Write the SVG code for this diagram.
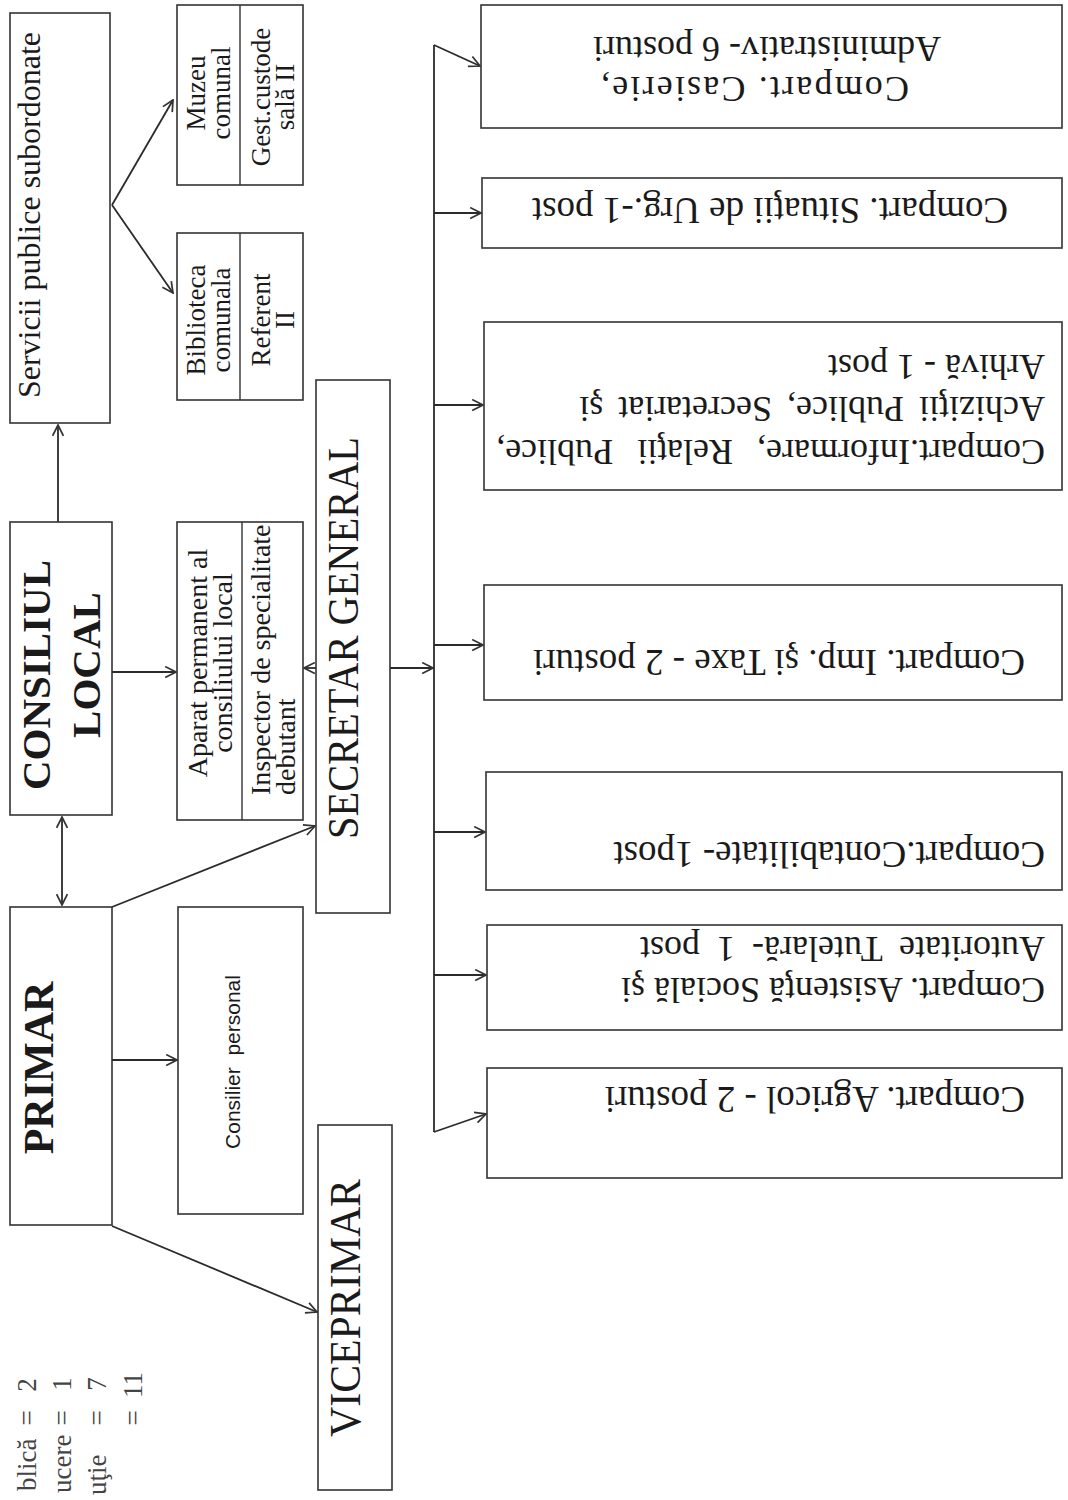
<svg xmlns="http://www.w3.org/2000/svg" width="1068" height="1500" viewBox="0 0 1068 1500">
<defs>
<marker id="a" viewBox="0 0 12 12" refX="11" refY="6" markerWidth="13" markerHeight="13" markerUnits="userSpaceOnUse" orient="auto-start-reverse">
<path d="M1,1 L11,6 L1,11" fill="none" stroke="#333" stroke-width="1.6"/>
</marker>
</defs>
<style>
.box{fill:#fff;stroke:#333;stroke-width:1.6}
.dv{stroke:#333;stroke-width:1.4}
.ln{fill:none;stroke:#2b2b2b;stroke-width:1.8;marker-end:url(#a)}
.t{font-family:"Liberation Serif","Times New Roman",serif;fill:#1a1a1a}
.b{font-weight:bold}
.s{font-family:"Liberation Sans",Arial,sans-serif}
.lg{font-family:"Liberation Serif","Times New Roman",serif;fill:#444;font-size:27px}
</style>
<rect width="1068" height="1500" fill="#fff"/>

<g id="legend">
<text class="lg" transform="translate(36,1491) rotate(-90)" text-anchor="start">blică</text>
<text class="lg" transform="translate(36,1418) rotate(-90)" text-anchor="middle">=</text>
<text class="lg" transform="translate(36,1385) rotate(-90)" text-anchor="middle">2</text>
<text class="lg" transform="translate(71,1493) rotate(-90)" text-anchor="start">ucere</text>
<text class="lg" transform="translate(71,1418) rotate(-90)" text-anchor="middle">=</text>
<text class="lg" transform="translate(71,1384) rotate(-90)" text-anchor="middle">1</text>
<text class="lg" transform="translate(106,1495) rotate(-90)" text-anchor="start">uţie</text>
<text class="lg" transform="translate(106,1418) rotate(-90)" text-anchor="middle">=</text>
<text class="lg" transform="translate(106,1384) rotate(-90)" text-anchor="middle">7</text>
<text class="lg" transform="translate(142,1418) rotate(-90)" text-anchor="middle">=</text>
<text class="lg" transform="translate(142,1385) rotate(-90)" text-anchor="middle">11</text>
</g>

<g id="servicii">
<rect class="box" x="10" y="13" width="100" height="410"/>
<text class="t" font-size="32" transform="translate(40,215) rotate(-90)" text-anchor="middle">Servicii publice subordonate</text>
</g>

<g id="muzeu">
<rect class="box" x="177" y="5" width="126" height="180"/>
<line class="dv" x1="240" y1="5" x2="240" y2="185"/>
<text class="t" font-size="27" transform="translate(205,93) rotate(-90)" text-anchor="middle">Muzeu<tspan x="0" dy="25">comunal</tspan></text>
<text class="t" font-size="27" transform="translate(270,97) rotate(-90)" text-anchor="middle">Gest.custode<tspan x="0" dy="24">sală II</tspan></text>
</g>

<g id="biblioteca">
<rect class="box" x="177" y="233" width="126" height="167"/>
<line class="dv" x1="240" y1="233" x2="240" y2="400"/>
<text class="t" font-size="27" transform="translate(205,320) rotate(-90)" text-anchor="middle">Biblioteca<tspan x="0" dy="25">comunala</tspan></text>
<text class="t" font-size="27" transform="translate(270,320) rotate(-90)" text-anchor="middle">Referent<tspan x="0" dy="24">II</tspan></text>
</g>

<g id="consiliul">
<rect class="box" x="10" y="522" width="102" height="293"/>
<text class="t b" font-size="41" transform="translate(50,675) rotate(-90)" text-anchor="middle">CONSILIUL</text>
<text class="t b" font-size="41" transform="translate(100,665) rotate(-90)" text-anchor="middle">LOCAL</text>
</g>

<g id="aparat">
<rect class="box" x="177" y="522" width="126" height="298"/>
<line class="dv" x1="242" y1="522" x2="242" y2="820"/>
<text class="t" font-size="28" transform="translate(207,663) rotate(-90)" text-anchor="middle">Aparat permanent al<tspan x="0" dy="25">consiliului local</tspan></text>
<text class="t" font-size="28" transform="translate(270,795) rotate(-90)" text-anchor="start">Inspector de specialitate<tspan x="0" dy="25">debutant</tspan></text>
</g>

<g id="primar">
<rect class="box" x="10" y="907" width="102" height="318"/>
<text class="t b" font-size="42" transform="translate(53,1068) rotate(-90)" text-anchor="middle">PRIMAR</text>
</g>

<g id="consilier">
<rect class="box" x="178" y="907" width="125" height="307"/>
<text class="t s" font-size="21" transform="translate(240,1062) rotate(-90)" text-anchor="middle" xml:space="preserve">Consilier  personal</text>
</g>

<g id="secretar">
<rect class="box" x="316" y="380" width="74" height="533"/>
<text class="t" font-size="44" transform="translate(358,638) rotate(-90)" text-anchor="middle" textLength="402" lengthAdjust="spacingAndGlyphs">SECRETAR GENERAL</text>
</g>

<g id="viceprimar">
<rect class="box" x="318" y="1125" width="74" height="365"/>
<text class="t" font-size="44" transform="translate(360,1308) rotate(-90)" text-anchor="middle" textLength="258" lengthAdjust="spacingAndGlyphs">VICEPRIMAR</text>
</g>

<g id="casierie">
<rect class="box" x="481" y="5" width="581" height="123"/>
<text class="t" font-size="36" transform="translate(755,77) rotate(180)" text-anchor="middle"><tspan textLength="308" lengthAdjust="spacing">Compart. Casierie,</tspan><tspan x="-12" dy="40">Administrativ- 6 posturi</tspan></text>
</g>

<g id="situatii">
<rect class="box" x="482" y="178" width="580" height="70"/>
<text class="t" font-size="37" transform="translate(770,198) rotate(180)" text-anchor="middle">Compart. Situaţii de Urg.-1 post</text>
</g>

<g id="informare">
<rect class="box" x="484" y="322" width="578" height="168"/>
<text class="t" font-size="36" transform="translate(1045,440) rotate(180)"><tspan word-spacing="15">Compart.Informare, Relaţii Publice,</tspan><tspan x="0" dy="43" word-spacing="6">Achiziţii Publice, Secretariat şi</tspan><tspan x="0" dy="42">Arhivă - 1 post</tspan></text>
</g>

<g id="impozite">
<rect class="box" x="484" y="585" width="578" height="115"/>
<text class="t" font-size="37" transform="translate(1025,650) rotate(180)">Compart. Imp. şi Taxe - 2 posturi</text>
</g>

<g id="contabilitate">
<rect class="box" x="486" y="772" width="576" height="118"/>
<text class="t" font-size="37" transform="translate(1045,842) rotate(180)">Compart.Contabilitate- 1post</text>
</g>

<g id="asistenta">
<rect class="box" x="487" y="925" width="575" height="105"/>
<text class="t" font-size="36" transform="translate(1045,978) rotate(180)">Compart. Asistenţă Socială şi<tspan x="0" dy="41" word-spacing="8">Autoritate Tutelară- 1 post</tspan></text>
</g>

<g id="agricol">
<rect class="box" x="487" y="1068" width="575" height="110"/>
<text class="t" font-size="37" transform="translate(1025,1087) rotate(180)">Compart. Agricol - 2 posturi</text>
</g>

<g id="connectors">
<path class="ln" d="M58,522 V425"/>
<path class="ln" d="M112,205 L173,100"/>
<path class="ln" d="M112,205 L173,293"/>
<path class="ln" d="M62,817 V905" style="marker-start:url(#a)"/>
<path class="ln" d="M112,672 H176"/>
<path class="ln" d="M316,668 H304"/>
<path class="ln" d="M112,907 L315,826"/>
<path class="ln" d="M112,1060 H177"/>
<path class="ln" d="M112,1226 L317,1312"/>
<path class="ln" d="M390,668 H433"/>
<path d="M434,45 V1132" fill="none" stroke="#2b2b2b" stroke-width="1.8"/>
<path class="ln" d="M434,45 L480,66"/>
<path class="ln" d="M434,213 H481"/>
<path class="ln" d="M434,405 H483"/>
<path class="ln" d="M434,645 H483"/>
<path class="ln" d="M434,832 H485"/>
<path class="ln" d="M434,975 H486"/>
<path class="ln" d="M434,1132 L486,1114"/>
</g>
</svg>
